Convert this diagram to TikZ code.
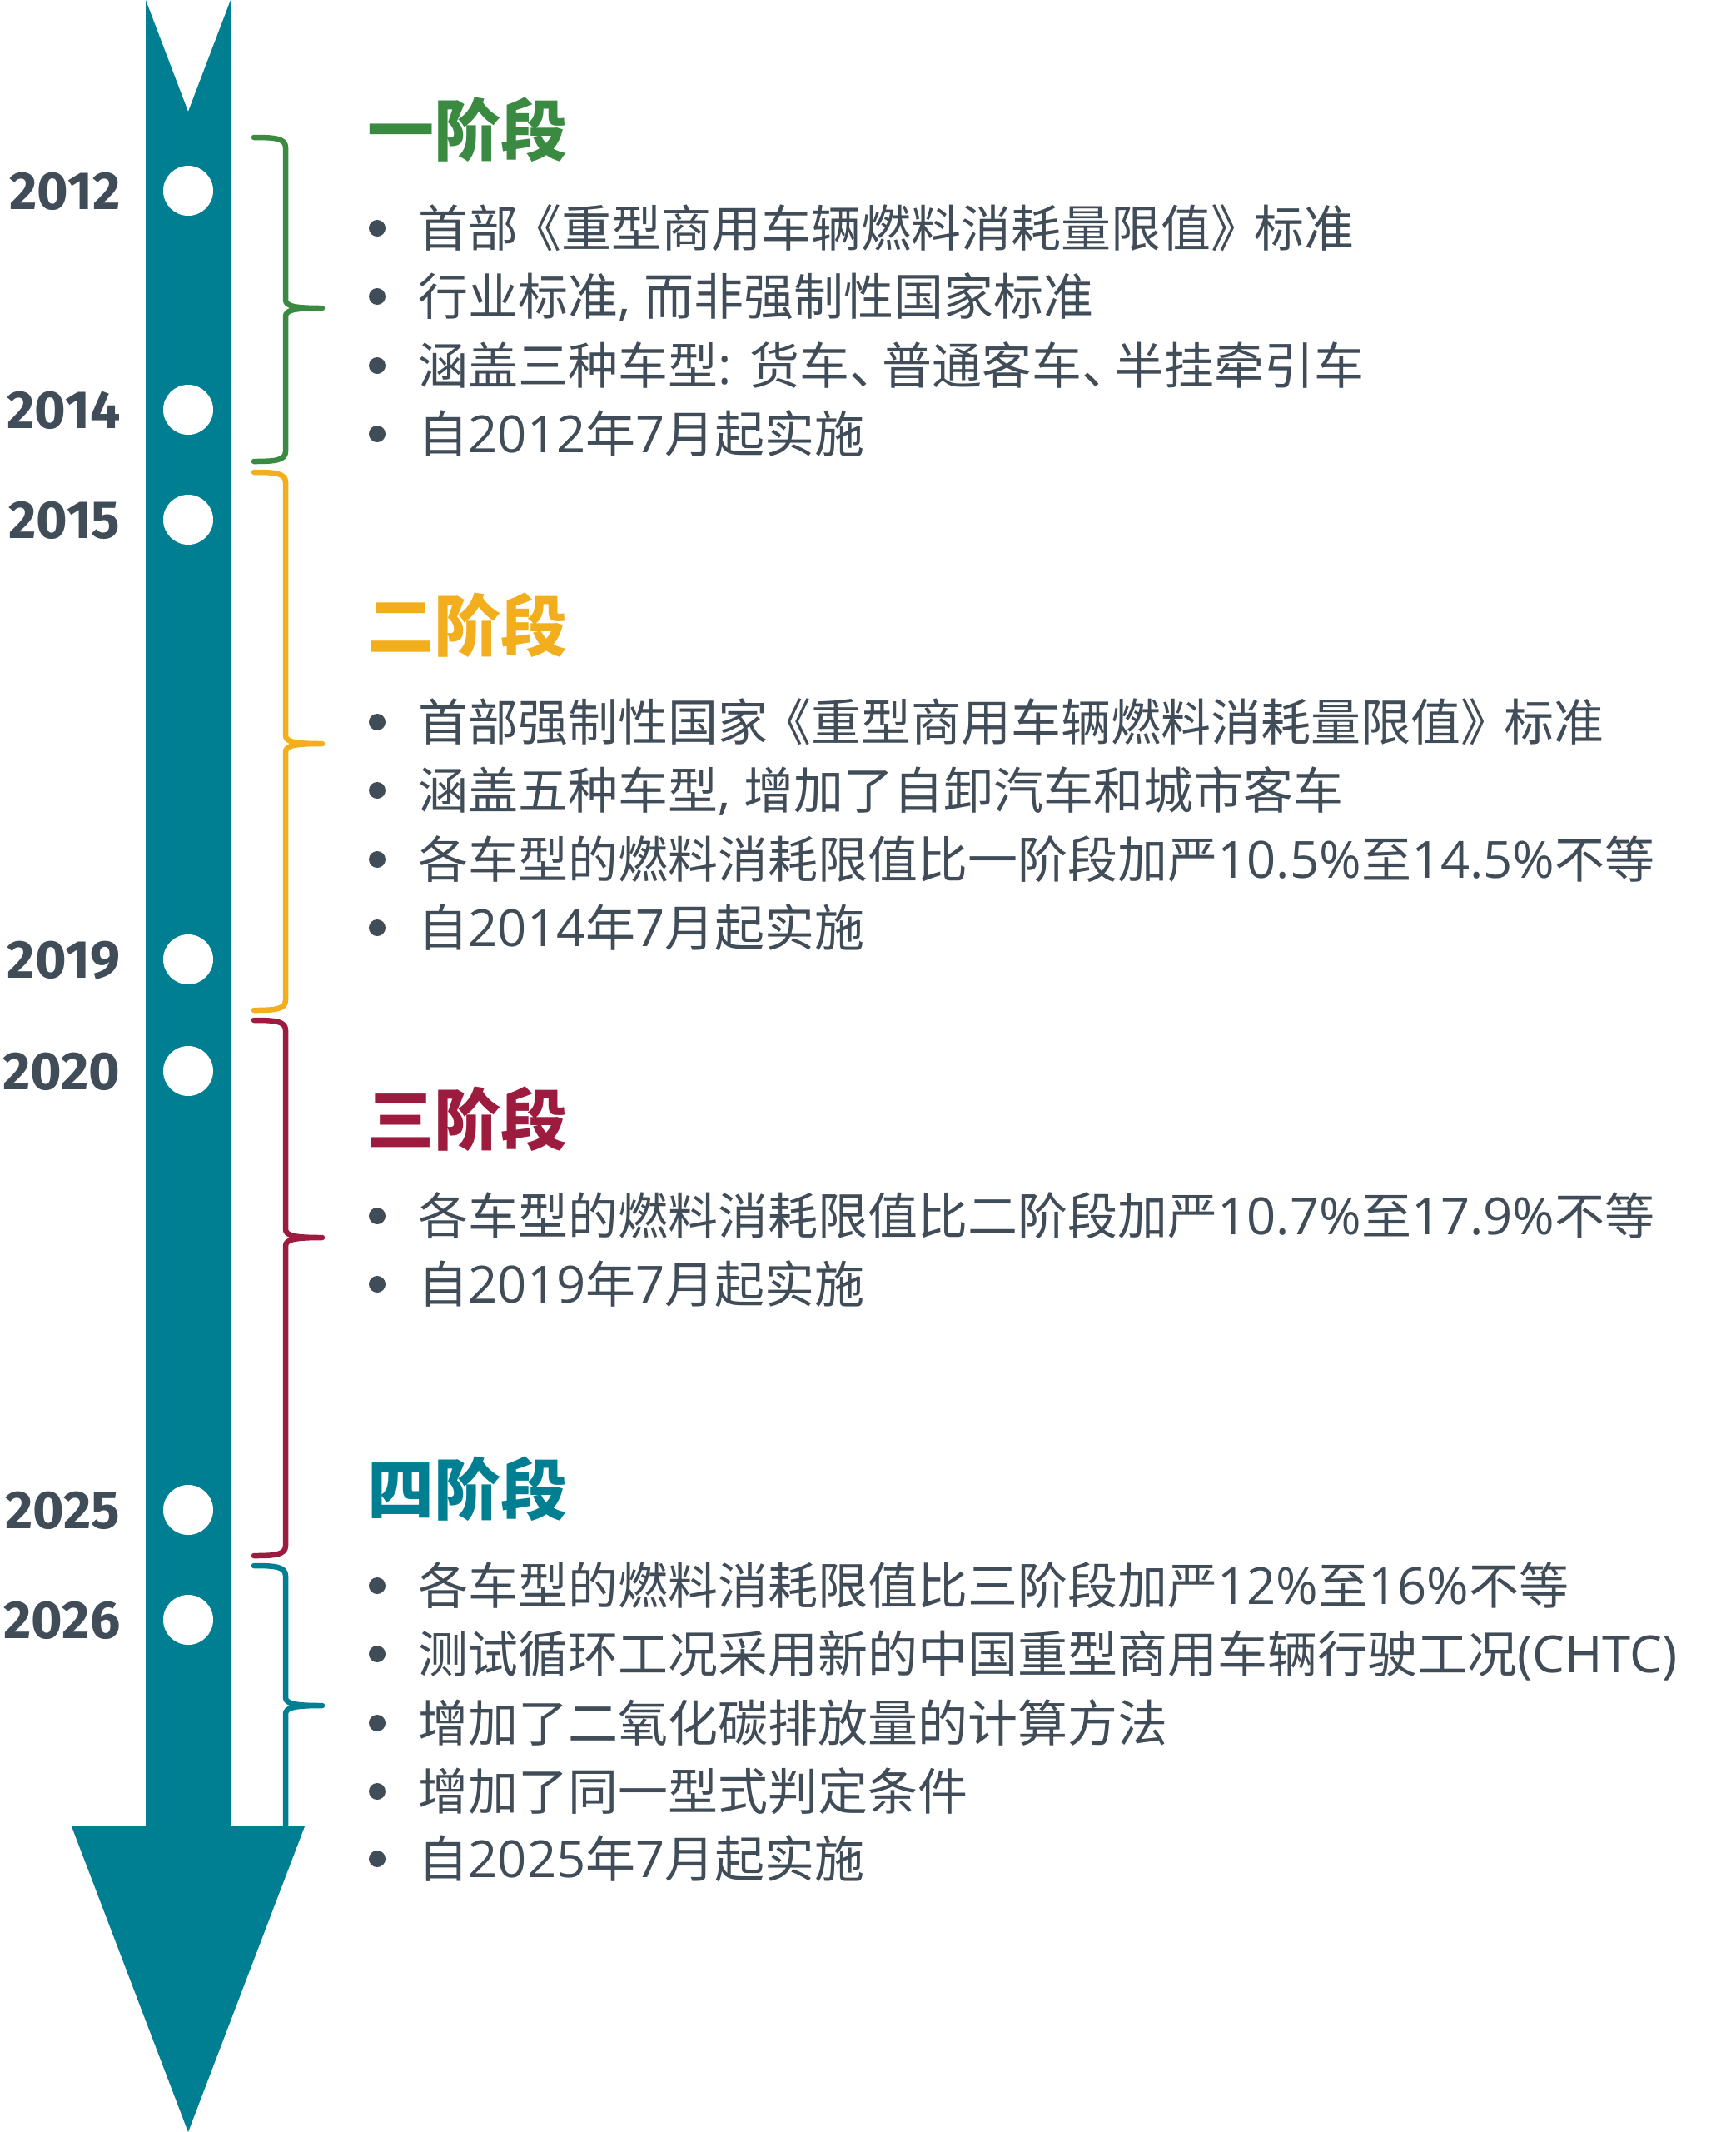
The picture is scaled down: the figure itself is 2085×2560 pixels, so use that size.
\documentclass[tikz,border=0pt]{standalone}
\usepackage{fontspec}
\newfontfamily\cjk{Noto Sans CJK SC}
\newfontfamily\latf{Open Sans}
\newfontfamily\yearfont{Fira Sans}
\definecolor{tealc}{HTML}{007E92}
\definecolor{greenc}{HTML}{3A8A42}
\definecolor{yellowc}{HTML}{F2AE1D}
\definecolor{redc}{HTML}{9C1B3F}
\definecolor{grayc}{HTML}{404C57}
\tikzset{
  yearlbl/.style={font=\yearfont\bfseries\fontsize{18.3pt}{20pt}\selectfont, text=grayc, inner sep=0pt, anchor=base east},
  hole/.style={circle, fill=white, minimum size=6mm, inner sep=0pt},
  ttl/.style={font=\cjk\bfseries\fontsize{22.8pt}{26pt}\selectfont, inner sep=0pt, anchor=base west},
  itemtxt/.style={font=\cjk\fontsize{17.07pt}{20pt}\selectfont, text=grayc, inner sep=0pt, anchor=base west},
  dotb/.style={circle, fill=grayc, minimum size=2mm, inner sep=0pt},
  brk/.style={line width=0.65mm, line cap=round, line join=round}
}
\newcommand\la[1]{{\latf\fontsize{17.5pt}{20pt}\selectfont #1}}
\newcommand\dun{、\hspace{-0.35em}}
\newcommand\bkl{\hspace{-0.13em}《}
\newcommand\bkr{》\hspace{-0.13em}}
\newcommand\yr[2]{%
  \node[hole] (c#1) at (226,#2) {};
  \node[yearlbl] (y#1) at (145,#2+22) {#1};}
\newcommand\itm[3]{%
  \node[dotb] (b#1) at (453,#2) {};
  \node[itemtxt] (t#1) at (502,#2+22) {#3};}
\newcommand\brak[4]{%
  \draw[brk,#4] (305,#1) .. controls (330,#1) and (343,#1+1) .. (343,#1+12)
    -- (343,#2-10) .. controls (343,#2-2) and (355,#2) .. (387,#2)
    .. controls (355,#2) and (343,#2+2) .. (343,#2+10)
    -- (343,#3-12) .. controls (343,#3-1) and (330,#3) .. (305,#3);}
\begin{document}
\begin{tikzpicture}[x=0.1mm,y=-0.1mm]
\useasboundingbox (0,0) rectangle (2085,2560);
% timeline arrow
\fill[tealc] (175,0) -- (226,134) -- (277,0) -- (277,2193) -- (366,2193)
  -- (226,2560) -- (86,2193) -- (175,2193) -- cycle;
% year markers
\yr{2012}{229}
\yr{2014}{492}
\yr{2015}{624}
\yr{2019}{1152}
\yr{2020}{1286}
\yr{2025}{1813}
\yr{2026}{1945}
% brackets
\brak{165}{370}{554}{greenc}
\brak{567}{893}{1213}{yellowc}
\brak{1225}{1486}{1868}{redc}
\draw[brk,tealc] (305,1880) .. controls (330,1880) and (343,1881) .. (343,1892)
    -- (343,2038) .. controls (343,2046) and (355,2048) .. (387,2048)
    .. controls (355,2048) and (343,2050) .. (343,2058) -- (343,2193);
% stage 1
\node[ttl, text=greenc] (h1) at (441,186) {一阶段};
\itm{11}{274}{首部\bkl 重型商用车辆燃料消耗量限值\bkr 标准}
\itm{12}{356}{行业标准\la{, }而非强制性国家标准}
\itm{13}{439}{涵盖三种车型\la{: }货车\dun 普通客车\dun 半挂牵引车}
\itm{14}{521}{自\la{2012}年\la{7}月起实施}
% stage 2
\node[ttl, text=yellowc] (h2) at (441,781) {二阶段};
\itm{21}{867}{首部强制性国家\bkl 重型商用车辆燃料消耗量限值\bkr 标准}
\itm{22}{949}{涵盖五种车型\la{, }增加了自卸汽车和城市客车}
\itm{23}{1032}{各车型的燃料消耗限值比一阶段加严\la{10.5\%}至\la{14.5\%}不等}
\itm{24}{1114}{自\la{2014}年\la{7}月起实施}
% stage 3
\node[ttl, text=redc] (h3) at (441,1374) {三阶段};
\itm{31}{1460}{各车型的燃料消耗限值比二阶段加严\la{10.7\%}至\la{17.9\%}不等}
\itm{32}{1542}{自\la{2019}年\la{7}月起实施}
% stage 4
\node[ttl, text=tealc] (h4) at (441,1818) {四阶段};
\itm{41}{1904}{各车型的燃料消耗限值比三阶段加严\la{12\%}至\la{16\%}不等}
\itm{42}{1986}{测试循环工况采用新的中国重型商用车辆行驶工况\la{(CHTC)}}
\itm{43}{2069}{增加了二氧化碳排放量的计算方法}
\itm{44}{2151}{增加了同一型式判定条件}
\itm{45}{2232}{自\la{2025}年\la{7}月起实施}
\end{tikzpicture}
\end{document}
